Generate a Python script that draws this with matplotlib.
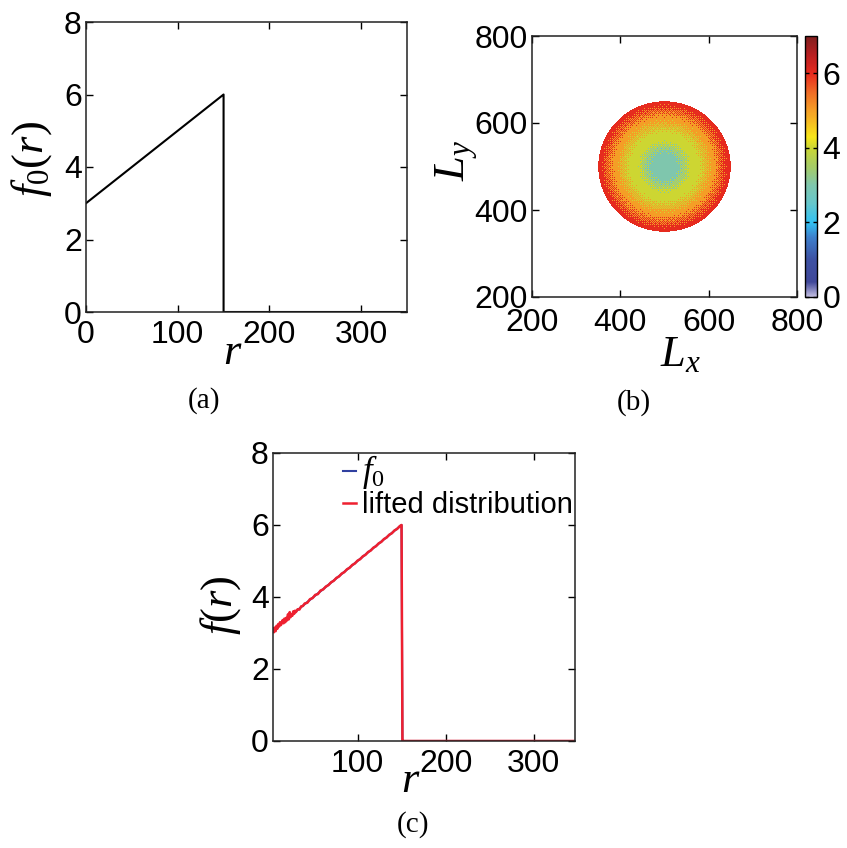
import numpy as np
import matplotlib
matplotlib.use("Agg")
import matplotlib.pyplot as plt
from matplotlib.colors import LinearSegmentedColormap

plt.rcParams['font.family'] = ['Liberation Sans', 'DejaVu Sans']
plt.rcParams['mathtext.fontset'] = 'custom'
plt.rcParams['mathtext.rm'] = 'Liberation Serif'
plt.rcParams['mathtext.it'] = 'Liberation Serif:italic'
plt.rcParams['mathtext.bf'] = 'Liberation Serif:bold'

# ---------------- data ----------------
# initial profile f0(r)
r_f0 = [0, 150, 150, 350]
f0_vals = [3.0, 6.0, 0.0, 0.0]

# lifted distribution
r_lift = [4, 5, 6, 7, 8, 9, 10, 11, 12, 13, 14, 15, 16, 17, 18, 19, 20, 21, 22, 23,
          24, 25, 26, 27, 28, 29, 30, 32, 34, 36, 38, 40, 43, 46, 49, 52, 55, 58,
          61, 64, 67, 70, 73, 76, 79, 82, 85, 88, 91, 94, 97, 100, 103, 106, 109,
          112, 115, 118, 121, 124, 127, 130, 133, 136, 139, 142, 145, 148, 150,
          151, 151.5, 347]
f_lift = [3.12, 3.02, 3.15, 3.05, 3.20, 3.12, 3.25, 3.18, 3.30, 3.22, 3.28, 3.36,
          3.27, 3.40, 3.30, 3.42, 3.35, 3.52, 3.38, 3.58, 3.44, 3.52, 3.48, 3.60,
          3.53, 3.62, 3.58, 3.66, 3.65, 3.74, 3.75, 3.82, 3.84, 3.94, 3.97, 4.06,
          4.08, 4.18, 4.21, 4.29, 4.33, 4.41, 4.45, 4.53, 4.57, 4.65, 4.69, 4.77,
          4.81, 4.89, 4.93, 5.01, 5.05, 5.13, 5.17, 5.25, 5.29, 5.37, 5.41, 5.49,
          5.53, 5.61, 5.65, 5.73, 5.77, 5.85, 5.89, 5.97, 6.00, 0.0, 0.0, 0.0]

# blue f0 curve in panel (c)
r_f0c = [4, 150, 151, 347]
f0c_vals = [3.08, 6.0, 0.0, 0.0]

# 2D density map (panel b): disc centre, disc radius, map extent, count levels
centre_x, centre_y = 500, 500
disc_radius = 150
map_lo, map_hi = 200, 800
nx_cells, ny_cells = 265, 261
level_edges = [3.9, 4.85, 5.55]   # f values where the integer count steps 3->4->5->6
base_level = 3

x_ticks_a = [0, 100, 200, 300]
y_ticks = [0, 2, 4, 6, 8]
ticks_b = [200, 400, 600, 800]
cbar_ticks = [0, 2, 4, 6]
x_ticks_c = [100, 200, 300]

# ---------------- layout helpers ----------------
W, H = 847, 848
fig = plt.figure(figsize=(W / 100, H / 100), dpi=100)


def rect(l, t, r, b):
    return [l / W, 1 - b / H, (r - l) / W, (b - t) / H]


TICK = 23
LBL = 32


def style(ax, xpad=6, ypad=3):
    ax.tick_params(direction='in', top=True, right=True, length=5, width=1,
                   labelsize=TICK, colors='black')
    ax.tick_params(axis='x', pad=xpad)
    ax.tick_params(axis='y', pad=ypad)
    for s in ax.spines.values():
        s.set_linewidth(1.1)
        s.set_color('#222222')


# ---------------- panel (a) ----------------
ax_a = fig.add_axes(rect(86, 22, 407, 312))
ax_a.plot(r_f0, f0_vals, color='black', lw=1.5)
ax_a.set_xlim(0, 350)
ax_a.set_ylim(0, 8)
ax_a.set_xticks(x_ticks_a)
ax_a.set_yticks(y_ticks)
style(ax_a)
ax_a.set_xlabel(r'$r$', fontsize=LBL)
ax_a.xaxis.set_label_coords((233 - 86) / 321, (312 - 353) / 290)
ax_a.xaxis.label.set_va('center')
ax_a.set_ylabel(r'$f_{\mathit{0}}(r)$', fontsize=LBL)
ax_a.yaxis.set_label_coords((32 - 86) / 321, (312 - 159) / 290)
ax_a.yaxis.label.set_va('center')

# ---------------- panel (b) ----------------
stops = [
    (0.0 / 7, (0.76, 0.74, 0.88)),
    (0.4 / 7, (0.25, 0.28, 0.60)),
    (1.0 / 7, (0.24, 0.32, 0.64)),
    (1.6 / 7, (0.24, 0.50, 0.80)),
    (2.0 / 7, (0.20, 0.76, 0.95)),
    (2.5 / 7, (0.40, 0.78, 0.80)),
    (3.0 / 7, (0.50, 0.78, 0.68)),
    (3.5 / 7, (0.65, 0.80, 0.40)),
    (4.0 / 7, (0.80, 0.84, 0.20)),
    (4.3 / 7, (0.97, 0.90, 0.10)),
    (5.0 / 7, (0.96, 0.62, 0.15)),
    (5.5 / 7, (0.94, 0.42, 0.15)),
    (6.0 / 7, (0.91, 0.17, 0.12)),
    (6.5 / 7, (0.72, 0.12, 0.13)),
    (7.0 / 7, (0.50, 0.12, 0.12)),
]
cmap = LinearSegmentedColormap.from_list('litejet', stops)
cmap.set_bad((1, 1, 1, 0))

xs = map_lo + (np.arange(nx_cells) + 0.5) * (map_hi - map_lo) / nx_cells
ys = map_lo + (np.arange(ny_cells) + 0.5) * (map_hi - map_lo) / ny_cells
XX, YY = np.meshgrid(xs, ys)
RR = np.hypot(XX - centre_x, YY - centre_y)
field = np.interp(RR, r_f0[:2], f0_vals[:2])
# ordered (Bayer) dither to mimic the integer-count texture
bayer = np.array([[0, 32, 8, 40, 2, 34, 10, 42],
                  [48, 16, 56, 24, 50, 18, 58, 26],
                  [12, 44, 4, 36, 14, 46, 6, 38],
                  [60, 28, 52, 20, 62, 30, 54, 22],
                  [3, 35, 11, 43, 1, 33, 9, 41],
                  [51, 19, 59, 27, 49, 17, 57, 25],
                  [15, 47, 7, 39, 13, 45, 5, 37],
                  [63, 31, 55, 23, 61, 29, 53, 21]]) / 64.0 - 0.5
dither = np.tile(bayer, (ny_cells // 8 + 1, nx_cells // 8 + 1))[:ny_cells, :nx_cells]
img = base_level + np.digitize(field + 0.65 * dither, level_edges).astype(float)
img = np.ma.masked_where(RR > disc_radius, img)

ax_b = fig.add_axes(rect(532, 36, 797, 297))
im = ax_b.imshow(img, cmap=cmap, vmin=0, vmax=7, origin='lower',
                 extent=[map_lo, map_hi, map_lo, map_hi],
                 interpolation='nearest', aspect='auto')
ax_b.set_xlim(200, 800)
ax_b.set_ylim(200, 800)
ax_b.set_xticks(ticks_b)
ax_b.set_yticks(ticks_b)
style(ax_b, xpad=8)
ax_b.set_xlabel(r'$L_x$', fontsize=LBL)
ax_b.xaxis.set_label_coords((680 - 532) / 265, (297 - 355) / 261)
ax_b.xaxis.label.set_va('center')
ax_b.set_ylabel(r'$L_y$', fontsize=LBL)
ax_b.yaxis.set_label_coords((457 - 532) / 265, (297 - 160) / 261)
ax_b.yaxis.label.set_va('center')

cax = fig.add_axes(rect(805, 36, 817, 297))
cb = fig.colorbar(im, cax=cax, ticks=cbar_ticks)
cb.outline.set_linewidth(1.0)
cax.tick_params(direction='in', length=3, width=1, labelsize=TICK, pad=4,
                left=True, right=True)

# ---------------- panel (c) ----------------
ax_c = fig.add_axes(rect(273, 453, 575, 741))
ax_c.plot(r_f0c, f0c_vals, color='#3040a0', lw=1.5, label=r'$f_{\mathit{0}}$')
ax_c.plot(r_lift, f_lift, color='#ee2030', lw=1.8, label='lifted distribution')
ax_c.set_xlim(4, 347)
ax_c.set_ylim(0, 8)
ax_c.set_xticks(x_ticks_c)
ax_c.set_yticks(y_ticks)
style(ax_c)
ax_c.set_xlabel(r'$r$', fontsize=LBL)
ax_c.xaxis.set_label_coords((411 - 273) / 302, (741 - 780) / 288)
ax_c.xaxis.label.set_va('center')
ax_c.set_ylabel(r'$f(r)$', fontsize=LBL)
ax_c.yaxis.set_label_coords((221 - 273) / 302, (741 - 605) / 288)
ax_c.yaxis.label.set_va('center')
leg = ax_c.legend(loc='upper left', bbox_to_anchor=((343 - 273) / 302, (741 - 453) / 288),
                  frameon=False, fontsize=21, handlelength=0.45, handletextpad=0.2,
                  labelspacing=0.0, borderpad=0, borderaxespad=0)
leg.get_texts()[0].set_fontsize(25)

# ---------------- panel captions ----------------
for (x, y, s) in [(204, 401, '(a)'), (634, 403, '(b)'), (413, 825, '(c)')]:
    fig.text(x / W, 1 - y / H, s, ha='center', va='center', fontsize=21,
             family='Liberation Serif')

fig.savefig('out.png', dpi=100)
